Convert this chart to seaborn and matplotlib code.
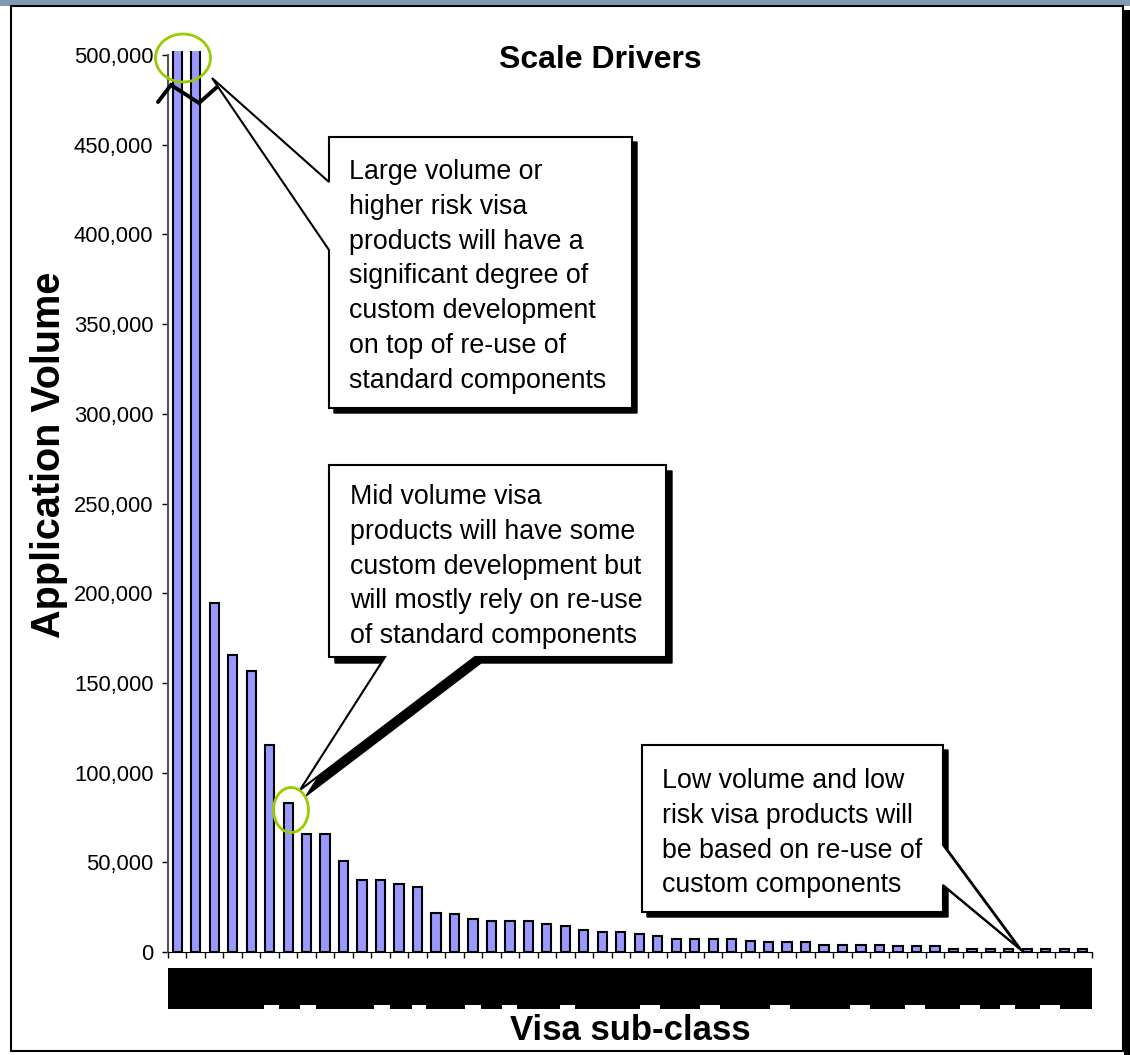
import numpy as np
import pandas as pd
import matplotlib
matplotlib.use("Agg")
import matplotlib.pyplot as plt
import seaborn as sns
from matplotlib.patches import Polygon, Rectangle, Ellipse
from matplotlib.lines import Line2D
from matplotlib.ticker import FuncFormatter

# visa sub-classes (names are blacked out in the source) and application volumes
subclasses = [str(i) for i in range(1, 51)]
volumes = [1250000, 850000, 194500, 165500, 156500, 115500, 83000, 65500, 65500, 51000,
           40000, 40000, 38000, 36500, 22000, 21000, 18500, 17500, 17500, 17500,
           15500, 14500, 12000, 11000, 11000, 10000, 8700, 7500, 7500, 7500,
           7500, 6300, 5600, 5600, 5600, 4000, 4000, 4000, 4000, 3200,
           3200, 3200, 1800, 1800, 1800, 1800, 1800, 1800, 1800, 1800]

title = "Scale Drivers"
xlabel = "Visa sub-class"
ylabel = "Application Volume"
note_large = ("Large volume or\nhigher risk visa\nproducts will have a\nsignificant degree of\n"
              "custom development\non top of re-use of\nstandard components")
note_mid = ("Mid volume visa\nproducts will have some\ncustom development but\n"
            "will mostly rely on re-use\nof standard components")
note_low = ("Low volume and low\nrisk visa products will\nbe based on re-use of\n"
            "custom components")

sns.set_style("ticks")
plt.rcParams["font.family"] = ["Liberation Sans", "DejaVu Sans"]
plt.rcParams["text.color"] = "black"
plt.rcParams["axes.labelcolor"] = "black"

W, H = 1130, 1055
fig = plt.figure(figsize=(W / 100, H / 100), dpi=100)
fig.patch.set_facecolor("white")


def px(x, y):
    # pixel position (from top-left) -> figure fraction
    return (x / W, 1 - y / H)


ax = fig.add_axes([168 / W, 1 - 952 / H, (1092 - 168) / W, (952 - 51) / H])

df = pd.DataFrame({"subclass": subclasses, "volume": volumes})
sns.barplot(data=df, x="subclass", y="volume", color="#9999ff", saturation=1,
            edgecolor="black", linewidth=1.5, width=0.5, ax=ax)

ax.set_xlim(-0.5, 49.5)
ax.set_ylim(0, 502230)
ax.set_yticks(range(0, 500001, 50000))
ax.yaxis.set_major_formatter(FuncFormatter(lambda v, p: f"{int(v):,}"))
ax.set_xticks(np.arange(-0.5, 50, 1))
ax.set_xticklabels([])
ax.tick_params(axis="y", labelsize=15.8, length=4.5, width=1, pad=6, colors="black")
ax.tick_params(axis="x", length=4, width=1, colors="black")
sns.despine(ax=ax)
ax.spines["left"].set_bounds(0, 500000)
ax.spines["left"].set_color("#555555")
ax.spines["left"].set_linewidth(1.5)
ax.spines["bottom"].set_color("black")

ax.set_xlabel(xlabel, fontsize=25, fontweight="bold")
ax.set_ylabel(ylabel, fontsize=28.5, fontweight="bold")
ax.xaxis.set_label_coords(0.5, (952 - 1030) / 901)
ax.xaxis.label.set_va("center")
ax.yaxis.set_label_coords((49 - 168) / 924, (952 - 455) / 901)
ax.yaxis.label.set_va("center")

fig.text(*px(600, 60), title, fontsize=23, fontweight="bold", ha="center", va="center")

# blacked-out category labels
fig.add_artist(Rectangle(px(168, 1009), (1092 - 168) / W, (1009 - 968) / H,
                         transform=fig.transFigure, facecolor="black", edgecolor="none"))
for x0, x1 in [(264, 279), (300, 316), (374, 390), (412, 426), (465, 481), (502, 517),
               (560, 575), (640, 660), (700, 720), (770, 790), (850, 870), (905, 925),
               (960, 980), (1000, 1015), (1040, 1060)]:
    fig.add_artist(Rectangle(px(x0, 1010), (x1 - x0) / W, 5 / H,
                             transform=fig.transFigure, facecolor="white", edgecolor="none"))


def callout(verts, text, text_xy, shadow=5):
    pts = [px(x, y) for x, y in verts]
    sh = [px(x + shadow, y + shadow) for x, y in verts]
    fig.add_artist(Polygon(sh, closed=True, transform=fig.transFigure,
                           facecolor="black", edgecolor="black", lw=1, zorder=3))
    fig.add_artist(Polygon(pts, closed=True, transform=fig.transFigure,
                           facecolor="white", edgecolor="black", lw=1.5, zorder=4))
    fig.text(*px(*text_xy), text, fontsize=19.3, ha="left", va="top",
             linespacing=1.44, zorder=5)


callout([(329, 137), (632, 137), (632, 408), (329, 408), (329, 250), (212, 78), (329, 182)],
        note_large, (349, 159))
callout([(329, 465), (666, 465), (666, 657), (475, 657), (300, 790), (385, 657), (329, 657)],
        note_mid, (350, 484), shadow=6)
callout([(642, 745), (943, 745), (943, 845), (1019, 948), (943, 885), (943, 912), (642, 912)],
        note_low, (662, 768))

# green highlight rings
for cx, cy, w, h in [(183, 58, 55, 48), (291, 810, 35, 45)]:
    fig.add_artist(Ellipse(px(cx, cy), w / W, h / H, transform=fig.transFigure,
                           facecolor="none", edgecolor="#99cc00", lw=2, zorder=6))

# axis break mark on the two tallest bars
zz = [px(158, 102), px(171, 85), px(199, 103), px(217, 87)]
fig.add_artist(Line2D([p[0] for p in zz], [p[1] for p in zz], transform=fig.transFigure,
                      color="black", lw=2.8, solid_joinstyle="miter", zorder=6))

# slide frame
fig.add_artist(Rectangle((0, 1 - 6 / H), 1, 6 / H, transform=fig.transFigure,
                         facecolor="#7f9ab2", edgecolor="none"))
fig.add_artist(Rectangle(px(11, 1051), (1123 - 11) / W, (1051 - 6) / H,
                         transform=fig.transFigure, facecolor="none", edgecolor="black", lw=1.5))
fig.add_artist(Rectangle(px(1124, 1055), 6 / W, (1055 - 10) / H, transform=fig.transFigure,
                         facecolor="black", edgecolor="none"))

fig.savefig("out.png", dpi=100)
